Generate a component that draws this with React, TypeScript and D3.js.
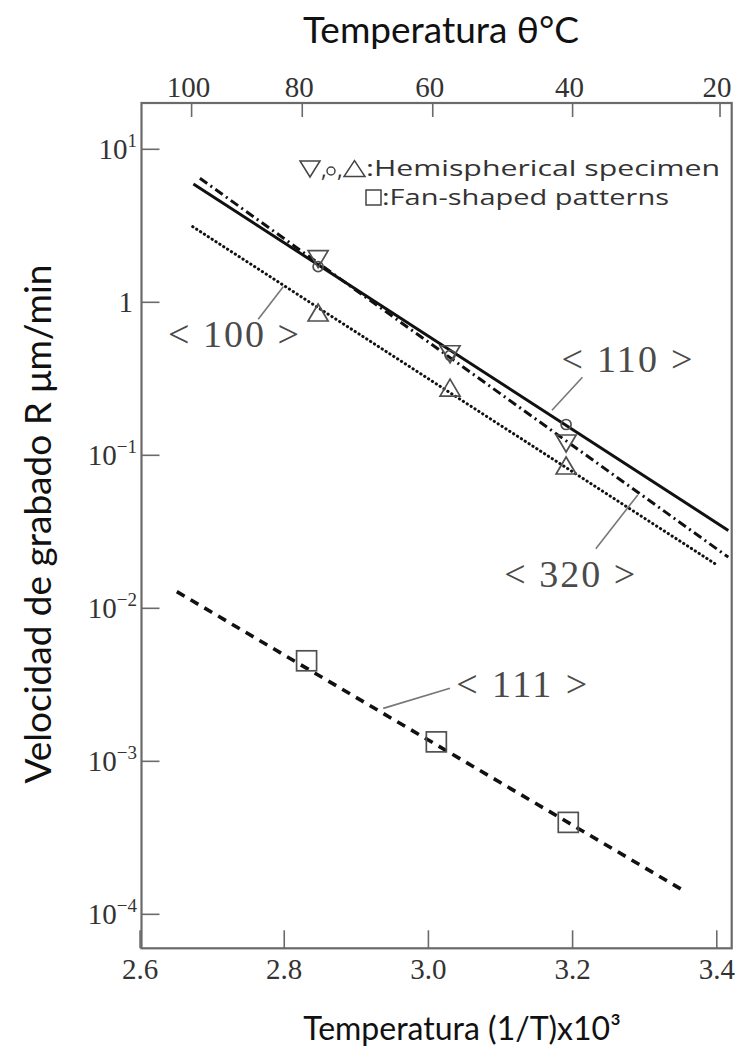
import React from 'react';
import * as d3 from 'd3';

const W = 738;
const H = 1059;

// Bottom axis: (1/T)x10^3
const xTicks = [2.6, 2.8, 3.0, 3.2, 3.4];
const xTickLabels = ['2.6', '2.8', '3.0', '3.2', '3.4'];
// Top axis: temperature °C, positions read in 1/T units
const topTickLabels = ['100', '80', '60', '40', '20'];
const topTickPos = [2.6715, 2.825, 3.006, 3.2, 3.4045];
// Log y axis decades
const yTickExp = [1, 0, -1, -2, -3, -4];

// Fitted lines (two end points each)
const line110X = [2.674, 3.416];
const line110Y = [5.93, 0.0323];
const line320X = [2.683, 3.416];
const line320Y = [6.47, 0.0216];
const line100X = [2.673, 3.398];
const line100Y = [3.12, 0.0195];
const line111X = [2.651, 3.356];
const line111Y = [0.01285, 0.000141];

// Hemispherical specimen points
const hemiX = [2.847, 3.03, 3.191];
const downTriY = [1.99, 0.475, 0.124];
const circleY = [1.71, 0.45, 0.159];
const upTriY = [0.826, 0.267, 0.0826];
// Fan-shaped patterns
const fanX = [2.831, 3.011, 3.194];
const fanY = [0.00454, 0.00134, 0.000399];

// Annotation labels
const annLabels = ['< 100 >', '< 110 >', '< 320 >', '< 111 >'];
const annTextX = [2.7297, 3.2755, 3.196, 3.1294];
const annTextY = [0.513, 0.35, 0.01371, 0.002644];
const annLeadX1 = [2.7639, 3.1714, 3.2322, 2.9373];
const annLeadY1 = [0.774, 0.197, 0.02454, 0.002219];
const annLeadX2 = [2.7986, 3.2136, 3.2904, 3.0299];
const annLeadY2 = [1.265, 0.3236, 0.0551, 0.003];

const M = { left: 141.5, right: 6.3, top: 103, bottom: 110.7 };

export default function App() {
  const x = d3
    .scaleLinear()
    .domain([2.602, 3.4207])
    .range([M.left, W - M.right]);
  const y = d3
    .scaleLog()
    .domain([Math.pow(10, -4.222), Math.pow(10, 1.3026)])
    .range([H - M.bottom, M.top]);

  const lineGen = d3
    .line<[number, number]>()
    .x((d) => x(d[0]))
    .y((d) => y(d[1]));
  const mk = (xs: number[], ys: number[]) =>
    lineGen(xs.map((v, i) => [v, ys[i]] as [number, number])) || '';

  const x0 = M.left;
  const x1 = W - M.right;
  const y0 = M.top;
  const y1 = H - M.bottom;
  const axisColor = '#6a6a6a';
  const tickLen = 18;
  const markColor = '#505050';
  const tri = 10; // half width of triangle
  const triDown = (cx: number, cy: number) =>
    `M${cx - tri},${cy - tri * 0.6}L${cx + tri},${cy - tri * 0.6}L${cx},${cy + tri * 1.1}Z`;
  const triUp = (cx: number, cy: number) =>
    `M${cx - tri},${cy + tri * 0.6}L${cx + tri},${cy + tri * 0.6}L${cx},${cy - tri * 1.1}Z`;

  const serif = "'Liberation Serif', 'Times New Roman', serif";
  const sans = "Lato, 'Open Sans', sans-serif";
  const legFont = "'Open Sans', sans-serif";

  return (
    <svg
      width={W}
      height={H}
      style={{ position: 'absolute', left: 0, top: 0, background: '#fff' }}
    >
      <rect x={0} y={0} width={W} height={H} fill="#fff" />
      {/* Titles */}
      <text x={441} y={43} textAnchor="middle" fontFamily={sans} fontSize={37} fill="#111">
        Temperatura θ°C
      </text>
      <text x={462} y={1040} textAnchor="middle" fontFamily={sans} fontSize={32} fill="#111">
        Temperatura (1/T)x10³
      </text>
      <text
        transform={`translate(51,524) rotate(-90)`}
        textAnchor="middle"
        fontFamily={sans}
        fontSize={37}
        fill="#111"
      >
        Velocidad de grabado R μm/min
      </text>

      {/* Frame */}
      <rect
        x={x0}
        y={y0}
        width={x1 - x0}
        height={y1 - y0}
        fill="none"
        stroke={axisColor}
        strokeWidth={2.2}
      />

      {/* Bottom ticks */}
      {xTicks.map((t, i) => (
        <g key={'xb' + i}>
          <line x1={x(t)} x2={x(t)} y1={y1} y2={y1 - tickLen} stroke={axisColor} strokeWidth={1.6} />
          <text x={x(t)} y={979} textAnchor="middle" fontFamily={serif} fontSize={29} fill="#333">
            {xTickLabels[i]}
          </text>
        </g>
      ))}
      {/* Top ticks */}
      {topTickPos.map((t, i) => (
        <g key={'xt' + i}>
          <line x1={x(t)} x2={x(t)} y1={y0} y2={y0 + tickLen - 4} stroke={axisColor} strokeWidth={1.6} />
          <text x={x(t) - 3} y={96.5} textAnchor="middle" fontFamily={serif} fontSize={29} fill="#333">
            {topTickLabels[i]}
          </text>
        </g>
      ))}
      {/* Left ticks */}
      {yTickExp.map((e, i) => {
        const v = Math.pow(10, e);
        const yy = y(v);
        return (
          <g key={'yl' + i}>
            <line x1={x0} x2={x0 + tickLen} y1={yy} y2={yy} stroke={axisColor} strokeWidth={1.6} />
            {e === 0 ? (
              <text x={133} y={yy + 10} textAnchor="end" fontFamily={serif} fontSize={29} fill="#333">
                1
              </text>
            ) : (
              <text x={137} y={yy + 10} textAnchor="end" fontFamily={serif} fontSize={29} fill="#333">
                <tspan>10</tspan>
                <tspan dy={-12} fontSize={19}>
                  {e < 0 ? '−' + Math.abs(e) : String(e)}
                </tspan>
              </text>
            )}
          </g>
        );
      })}

      {/* Lines */}
      <path
        d={mk(line100X, line100Y)}
        fill="none"
        stroke="#111"
        strokeWidth={3}
        strokeLinecap="round"
        strokeDasharray="0.3,4.3"
      />
      <path d={mk(line320X, line320Y)} fill="none" stroke="#111" strokeWidth={3} strokeDasharray="9,4,2,4" />
      <path d={mk(line110X, line110Y)} fill="none" stroke="#111" strokeWidth={3} />
      <path d={mk(line111X, line111Y)} fill="none" stroke="#111" strokeWidth={3.6} strokeDasharray="9,7" />

      {/* Markers */}
      {hemiX.map((v, i) => (
        <g key={'h' + i} fill="none" stroke={markColor} strokeWidth={1.7}>
          <circle cx={x(v)} cy={y(circleY[i])} r={5} />
          <path d={triDown(x(v), y(downTriY[i]))} />
          <path d={triUp(x(v), y(upTriY[i]))} />
        </g>
      ))}
      {fanX.map((v, i) => (
        <rect
          key={'f' + i}
          x={x(v) - 10}
          y={y(fanY[i]) - 10}
          width={20}
          height={20}
          fill="none"
          stroke={markColor}
          strokeWidth={1.7}
        />
      ))}

      {/* Annotations */}
      {annLabels.map((s, i) => (
        <g key={'a' + i}>
          <line
            x1={x(annLeadX1[i])}
            y1={y(annLeadY1[i])}
            x2={x(annLeadX2[i])}
            y2={y(annLeadY2[i])}
            stroke="#777"
            strokeWidth={1.6}
          />
          <text
            x={x(annTextX[i])}
            y={y(annTextY[i])}
            textAnchor="middle"
            fontFamily={serif}
            fontSize={38}
            fill="#4a4a4a"
            textLength={131}
            lengthAdjust="spacing"
          >
            {s}
          </text>
        </g>
      ))}

      {/* Legend */}
      <g fill="none" stroke="#444" strokeWidth={1.5}>
        <path d="M300,161L320,161L310,177Z" />
        <circle cx={331} cy={171} r={4} />
        <path d="M344,176.5L365,176.5L354.5,160.5Z" />
        <rect x={366} y={190} width={15} height={15} />
      </g>
      <text x={321} y={176.5} fontFamily={legFont} fontSize={22} fill="#333">
        ,
      </text>
      <text x={337} y={176.5} fontFamily={legFont} fontSize={22} fill="#333">
        ,
      </text>
      <text
        x={366}
        y={176}
        fontFamily={legFont}
        fontSize={22}
        fill="#333"
        textLength={354}
        lengthAdjust="spacingAndGlyphs"
      >
        :Hemispherical specimen
      </text>
      <text
        x={382}
        y={205}
        fontFamily={legFont}
        fontSize={22}
        fill="#333"
        textLength={287}
        lengthAdjust="spacingAndGlyphs"
      >
        :Fan-shaped patterns
      </text>
    </svg>
  );
}
